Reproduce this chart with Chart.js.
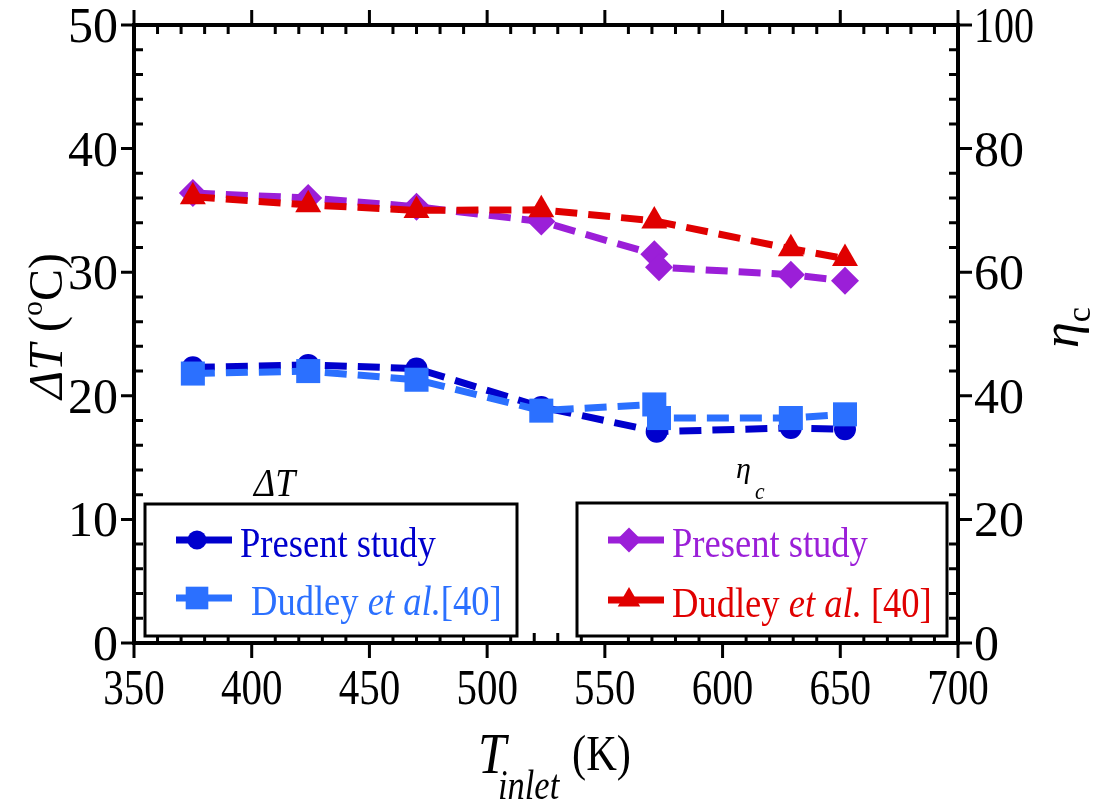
<!DOCTYPE html>
<html>
<head>
<meta charset="utf-8">
<title>Inlet temperature: ΔT and ηc</title>
<script src="https://cdn.jsdelivr.net/npm/chart.js@4.4.0/dist/chart.umd.min.js"></script>
<style>
  html, body { margin: 0; padding: 0; background: #fff; }
  canvas { display: block; }
</style>
</head>
<body>
<canvas id="tempChart" width="1097" height="807"></canvas>
<script>
// inlet temperature (K) for each series
const tPresent = [375, 424, 470, 523, 572, 629, 652];
const tDudleyDT = [375, 424, 470, 523, 571, 573, 629, 652];
const tPresentEta = [375, 424, 470, 523, 571, 573, 629, 652];
const tDudleyEta = [375, 424, 470, 523, 571, 629, 652];

// temperature difference (°C), left axis
const dtPresent = [22.3, 22.5, 22.2, 19.1, 17.1, 17.4, 17.3];
const dtDudley = [21.8, 22.0, 21.3, 18.8, 19.3, 18.2, 18.2, 18.5];

// efficiency, right axis
const etaPresent = [72.8, 72.0, 70.6, 68.2, 62.9, 60.8, 59.6, 58.6];
const etaDudley = [72.2, 70.9, 70.0, 70.1, 68.3, 63.8, 62.2];

// axis tick labels
const xTicks = [350, 400, 450, 500, 550, 600, 650, 700];
const leftTicks = [0, 10, 20, 30, 40, 50];
const rightTicks = [0, 20, 40, 60, 80, 100];

const DARK_BLUE = '#0000cd';
const LIGHT_BLUE = '#2b70ff';
const PURPLE = '#9b1fd8';
const RED = '#e00000';
const SERIF = '"Liberation Serif", "Times New Roman", serif';

function pts(xs, ys) {
    return xs.map((x, i) => ({ x: x, y: ys[i] }));
}

function series(label, xs, ys, color, style, radius, axis, order) {
    return {
        label: label,
        data: pts(xs, ys),
        yAxisID: axis,
        borderColor: color,
        backgroundColor: color,
        borderWidth: 7,
        borderDash: [22, 11],
        pointStyle: style,
        pointRadius: radius,
        pointBorderWidth: 0,
        pointBackgroundColor: color,
        fill: false,
        tension: 0,
        order: order
    };
}

// draw text squeezed horizontally, returns the advance width
function squeeze(ctx, text, x, y, sx, font, color) {
    ctx.save();
    ctx.font = font;
    ctx.fillStyle = color;
    ctx.translate(x, y);
    ctx.scale(sx, 1);
    ctx.textAlign = 'left';
    ctx.textBaseline = 'alphabetic';
    ctx.fillText(text, 0, 0);
    const w = ctx.measureText(text).width * sx;
    ctx.restore();
    return w;
}

function runsWidth(ctx, runs, sx) {
    let w = 0;
    runs.forEach(r => { ctx.font = r.font; w += ctx.measureText(r.text).width * sx; });
    return w;
}

function drawRuns(ctx, runs, x, y, sx) {
    let cx = x;
    runs.forEach(r => {
        cx += squeeze(ctx, r.text, cx, y + (r.dy || 0), sx, r.font, r.color || '#000');
    });
}

function marker(ctx, style, radius, x, y, color) {
    ctx.save();
    ctx.fillStyle = color;
    ctx.strokeStyle = color;
    Chart.helpers.drawPoint(ctx, { pointStyle: style, radius: radius, rotation: 0, borderWidth: 0 }, x, y);
    ctx.restore();
}

function legendBox(ctx, box, rows) {
    ctx.save();
    ctx.fillStyle = '#fff';
    ctx.fillRect(box.l, box.t, box.r - box.l, box.b - box.t);
    ctx.strokeStyle = '#000';
    ctx.lineWidth = 3;
    ctx.strokeRect(box.l, box.t, box.r - box.l, box.b - box.t);
    rows.forEach(row => {
        ctx.strokeStyle = row.color;
        ctx.lineWidth = 7;
        ctx.beginPath();
        ctx.moveTo(box.l + 31, row.y);
        ctx.lineTo(box.l + 87, row.y);
        ctx.stroke();
        marker(ctx, row.style, row.radius, box.l + 52, row.y, row.color);
        drawRuns(ctx, row.runs, row.tx, row.y + 17, 0.87);
    });
    ctx.restore();
}

const frameAndText = {
    id: 'frameAndText',
    afterDraw(chart) {
        const ctx = chart.ctx;
        const a = chart.chartArea;
        const sx = chart.scales.x, sl = chart.scales.y, sr = chart.scales.y2;

        ctx.save();
        ctx.strokeStyle = '#000';
        ctx.lineCap = 'butt';

        // ticks: major outward, minor inward
        ctx.lineWidth = 3;
        ctx.beginPath();
        for (let v = 350; v <= 700; v += 10) {
            const px = sx.getPixelForValue(v);
            if (v % 50 === 0) {
                ctx.moveTo(px, a.bottom); ctx.lineTo(px, a.bottom + 15);
                ctx.moveTo(px, a.top); ctx.lineTo(px, a.top - 15);
            } else {
                ctx.moveTo(px, a.bottom); ctx.lineTo(px, a.bottom - 10);
                ctx.moveTo(px, a.top); ctx.lineTo(px, a.top + 9);
            }
        }
        for (let v = 0; v <= 50; v += 2) {
            const py = sl.getPixelForValue(v);
            if (v % 10 === 0) {
                ctx.moveTo(a.left, py); ctx.lineTo(a.left - 13, py);
            } else {
                ctx.moveTo(a.left, py); ctx.lineTo(a.left + 9, py);
            }
        }
        for (let v = 0; v <= 100; v += 4) {
            const py = sr.getPixelForValue(v);
            if (v % 20 === 0) {
                ctx.moveTo(a.right, py); ctx.lineTo(a.right + 14, py);
            } else {
                ctx.moveTo(a.right, py); ctx.lineTo(a.right - 9, py);
            }
        }
        ctx.stroke();

        // frame
        ctx.lineWidth = 4;
        ctx.strokeRect(a.left, a.top, a.right - a.left, a.bottom - a.top);

        // tick labels
        const tickFont = '50px ' + SERIF;
        ctx.font = tickFont;
        xTicks.forEach(v => {
            const s = 0.82;
            const w = ctx.measureText(String(v)).width * s;
            squeeze(ctx, String(v), sx.getPixelForValue(v) - w / 2, 704, s, tickFont, '#000');
        });
        leftTicks.forEach(v => {
            ctx.font = tickFont;
            const w = ctx.measureText(String(v)).width;
            squeeze(ctx, String(v), 118 - w, sl.getPixelForValue(v) + 17, 1, tickFont, '#000');
        });
        rightTicks.forEach(v => {
            const s = v >= 100 ? 0.8 : 1;
            squeeze(ctx, String(v), a.right + 16, sr.getPixelForValue(v) + 17, s, tickFont, '#000');
        });

        // left axis title
        const leftTitle = [
            { text: 'ΔT', font: 'italic 48px ' + SERIF },
            { text: ' (', font: '48px ' + SERIF },
            { text: 'o', font: '30px ' + SERIF, dy: -20 },
            { text: 'C)', font: '48px ' + SERIF }
        ];
        ctx.save();
        ctx.translate(62, 326);
        ctx.rotate(-Math.PI / 2);
        drawRuns(ctx, leftTitle, -runsWidth(ctx, leftTitle, 1) / 2, 0, 1);
        ctx.restore();

        // bottom axis title
        squeeze(ctx, 'T', 478, 773, 0.9, 'italic 56px ' + SERIF, '#000');
        squeeze(ctx, 'inlet', 498, 799, 0.82, 'italic 42px ' + SERIF, '#000');
        squeeze(ctx, '(K)', 572, 770, 0.85, '50px ' + SERIF, '#000');

        // right axis title
        ctx.save();
        ctx.translate(1078, 348);
        ctx.rotate(-Math.PI / 2);
        drawRuns(ctx, [
            { text: 'η', font: 'italic 52px ' + SERIF },
            { text: 'c', font: '34px ' + SERIF, dy: 12 }
        ], 0, 0, 1);
        ctx.restore();

        // legends
        legendBox(ctx, { l: 145, t: 504, r: 517, b: 636 }, [
            { y: 540, color: DARK_BLUE, style: 'circle', radius: 9.5, tx: 240,
              runs: [{ text: 'Present study', font: '42px ' + SERIF, color: DARK_BLUE }] },
            { y: 598, color: LIGHT_BLUE, style: 'rect', radius: 16, tx: 251,
              runs: [
                  { text: 'Dudley ', font: '42px ' + SERIF, color: LIGHT_BLUE },
                  { text: 'et al.', font: 'italic 42px ' + SERIF, color: LIGHT_BLUE },
                  { text: '[40]', font: '42px ' + SERIF, color: LIGHT_BLUE }
              ] }
        ]);
        legendBox(ctx, { l: 577, t: 503, r: 947, b: 636 }, [
            { y: 540, color: PURPLE, style: 'rectRot', radius: 12.5, tx: 672,
              runs: [{ text: 'Present study', font: '42px ' + SERIF, color: PURPLE }] },
            { y: 600, color: RED, style: 'triangle', radius: 13, tx: 672,
              runs: [
                  { text: 'Dudley ', font: '42px ' + SERIF, color: RED },
                  { text: 'et al.', font: 'italic 42px ' + SERIF, color: RED },
                  { text: ' [40]', font: '42px ' + SERIF, color: RED }
              ] }
        ]);

        // legend titles
        squeeze(ctx, 'ΔT', 254, 496, 0.9, 'italic 40px ' + SERIF, '#000');
        squeeze(ctx, 'η', 736, 478, 1, 'italic 30px ' + SERIF, '#000');
        squeeze(ctx, 'c', 755, 499, 0.9, 'italic 24px ' + SERIF, '#000');

        ctx.restore();
    }
};

new Chart(document.getElementById('tempChart'), {
    type: 'line',
    data: {
        datasets: [
            series('Present study ΔT', tPresent, dtPresent, DARK_BLUE, 'circle', 11, 'y', 3),
            series('Dudley et al. [40] ΔT', tDudleyDT, dtDudley, LIGHT_BLUE, 'rect', 17, 'y', 2),
            series('Present study ηc', tPresentEta, etaPresent, PURPLE, 'rectRot', 14, 'y2', 1),
            series('Dudley et al. [40] ηc', tDudleyEta, etaDudley, RED, 'triangle', 15, 'y2', 0)
        ]
    },
    options: {
        responsive: false,
        animation: false,
        devicePixelRatio: 1,
        layout: { padding: { top: 25, left: 0, right: 0, bottom: 0 } },
        plugins: {
            legend: { display: false },
            tooltip: { enabled: false }
        },
        scales: {
            x: {
                type: 'linear',
                min: 350,
                max: 700,
                grid: { display: false },
                border: { display: false },
                ticks: { display: false },
                afterFit: scale => { scale.height = 164; }
            },
            y: {
                position: 'left',
                min: 0,
                max: 50,
                grid: { display: false },
                border: { display: false },
                ticks: { display: false },
                afterFit: scale => { scale.width = 134; }
            },
            y2: {
                position: 'right',
                min: 0,
                max: 100,
                grid: { display: false },
                border: { display: false },
                ticks: { display: false },
                afterFit: scale => { scale.width = 139; }
            }
        }
    },
    plugins: [frameAndText]
});
</script>
</body>
</html>
